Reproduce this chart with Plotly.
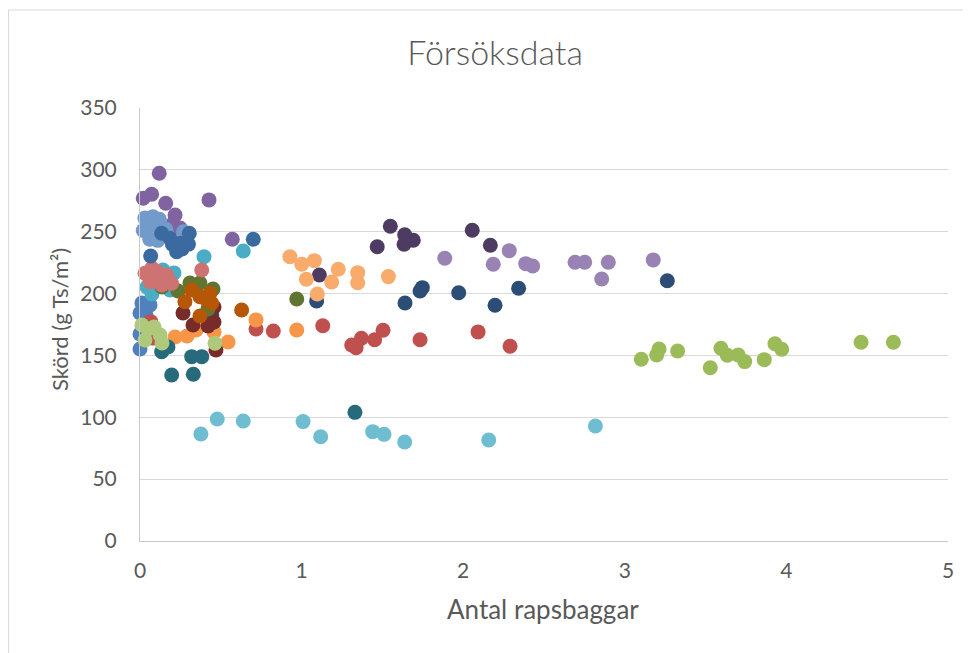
import plotly.graph_objects as go

# ---- data ----
blue_x = [0.012, 0.062, 0.0, 0.037, 0.0, 0.0]
blue_y = [192.4, 190.8, 184.3, 182.7, 167.3, 155.2]

red_x = [0.066, 0.08, 0.718, 0.825, 1.131, 1.310, 1.337, 1.370, 1.452, 1.504, 1.733, 2.092, 2.290]
red_y = [177.3, 164.0, 171.4, 169.8, 174.0, 158.4, 156.3, 163.9, 162.7, 170.3, 162.7, 169.0, 157.4]

green_x = [3.102, 3.197, 3.212, 3.327, 3.529, 3.595, 3.634, 3.702, 3.742, 3.863, 3.929, 3.971, 4.462, 4.662]
green_y = [146.9, 150.4, 155.2, 153.6, 140.1, 155.8, 150.1, 150.4, 145.0, 146.6, 159.5, 155.0, 160.6, 160.6]

purple_x = [0.119, 0.020, 0.072, 0.159, 0.427, 0.217, 0.206, 0.248, 0.571]
purple_y = [297.2, 277.0, 280.3, 273.0, 275.7, 263.5, 256.8, 253.0, 243.9]

aqua_x = [0.396, 0.639, 0.043, 0.186, 0.142, 0.210, 0.074]
aqua_y = [229.8, 234.4, 205.3, 202.9, 219.1, 216.7, 199.7]

orange_x = [0.217, 0.291, 0.347, 0.458, 0.545, 0.718, 0.970]
orange_y = [164.9, 165.7, 170.6, 169.0, 160.9, 178.7, 170.6]

navy_x = [0.444, 1.093, 1.640, 1.733, 1.747, 1.972, 2.197, 2.343, 3.263]
navy_y = [182.7, 194.0, 192.4, 202.1, 204.8, 200.7, 190.5, 204.3, 210.4]

darkred_x = [0.266, 0.328, 0.421, 0.458, 0.470, 0.458]
darkred_y = [184.3, 174.6, 173.8, 177.0, 154.4, 189.2]

darkgreen_x = [0.309, 0.452, 0.235, 0.421, 0.136, 0.371, 0.970]
darkgreen_y = [208.6, 203.7, 202.1, 187.6, 205.3, 208.6, 195.6]

darkpurple_x = [1.110, 1.468, 1.549, 1.638, 1.634, 1.691, 2.056, 2.168]
darkpurple_y = [215.0, 237.9, 254.4, 247.6, 239.9, 243.1, 251.2, 239.0]

darkteal_x = [0.134, 0.173, 0.320, 0.382, 0.196, 0.330, 1.330]
darkteal_y = [153.0, 156.8, 149.0, 149.0, 134.2, 134.8, 104.0]

darkorange_x = [0.320, 0.371, 0.433, 0.413, 0.278, 0.444, 0.371, 0.629]
darkorange_y = [202.9, 197.5, 200.2, 194.8, 193.4, 192.2, 181.9, 186.7]

lightblue_x = [0.03, 0.08, 0.12, 0.02, 0.06, 0.11, 0.09, 0.27, 0.16]
lightblue_y = [261.0, 262.0, 260.0, 251.0, 244.0, 243.0, 255.0, 250.0, 252.0]

lightred_x = [0.031, 0.103, 0.165, 0.196, 0.062, 0.134, 0.074, 0.382]
lightred_y = [216.4, 217.7, 215.0, 208.3, 209.6, 207.0, 220.7, 219.1]

lightgreen_x = [0.012, 0.05, 0.087, 0.124, 0.031, 0.136, 0.464]
lightgreen_y = [174.6, 171.4, 173.0, 166.5, 162.5, 160.1, 159.8]

lightpurple_x = [1.886, 2.186, 2.285, 2.387, 2.430, 2.692, 2.752, 2.857, 2.898, 3.176]
lightpurple_y = [228.5, 223.7, 234.7, 224.2, 222.3, 225.3, 225.3, 211.8, 225.3, 227.2]

lightaqua_x = [0.377, 0.478, 0.639, 1.009, 1.118, 1.440, 1.510, 1.638, 2.158, 2.818]
lightaqua_y = [86.5, 98.6, 97.0, 96.5, 84.3, 88.4, 86.2, 80.0, 81.6, 93.0]

lightorange_x = [0.928, 1.001, 1.079, 1.029, 1.227, 1.186, 1.347, 1.347, 1.537, 1.097]
lightorange_y = [229.8, 223.7, 226.6, 211.6, 219.6, 209.4, 216.9, 208.8, 213.7, 199.7]

steelblue_x = [0.066, 0.134, 0.186, 0.248, 0.305, 0.30, 0.227, 0.26, 0.20, 0.701]
steelblue_y = [230.4, 248.7, 244.7, 240.7, 248.7, 240.0, 233.9, 236.0, 240.0, 243.9]

x_ticks = [0, 1, 2, 3, 4, 5]
y_ticks = [0, 50, 100, 150, 200, 250, 300, 350]

series = [
    (blue_x, blue_y, "#4F81BD"),
    (red_x, red_y, "#C0504D"),
    (green_x, green_y, "#9BBB59"),
    (purple_x, purple_y, "#8064A2"),
    (aqua_x, aqua_y, "#4BACC6"),
    (orange_x, orange_y, "#F79646"),
    (navy_x, navy_y, "#2C4D75"),
    (darkred_x, darkred_y, "#772C2A"),
    (darkgreen_x, darkgreen_y, "#5F7530"),
    (darkpurple_x, darkpurple_y, "#4D3B62"),
    (darkteal_x, darkteal_y, "#276A7C"),
    (darkorange_x, darkorange_y, "#B65708"),
    (lightblue_x, lightblue_y, "#729ACA"),
    (lightred_x, lightred_y, "#CD7371"),
    (lightgreen_x, lightgreen_y, "#AFC97A"),
    (lightpurple_x, lightpurple_y, "#9983B5"),
    (lightaqua_x, lightaqua_y, "#6FBDD1"),
    (lightorange_x, lightorange_y, "#F9AB6B"),
    (steelblue_x, steelblue_y, "#3A6AA0"),
]

fig = go.Figure()
for xs, ys, col in series:
    fig.add_trace(go.Scatter(
        x=xs, y=ys, mode="markers", cliponaxis=False, showlegend=False,
        marker=dict(size=15, color=col, line=dict(width=0)),
        hoverinfo="x+y",
    ))

FONT = "Lato"
GREY = "#595959"

# page body has an 8px offset, so margins compensate for it
L, R, T, B = 132, 31, 100, 120
PW, PH = 971 - L - R, 653 - T - B

fig.update_layout(
    width=971, height=653,
    margin=dict(l=L, r=R, t=T, b=B),
    paper_bgcolor="white", plot_bgcolor="white",
    font=dict(family=FONT, color=GREY, size=21),
    title=dict(text="Försöksdata", x=487 / 971, xanchor="center", y=1 - 45 / 653, yanchor="middle",
               font=dict(family=FONT, size=34, color=GREY, weight=300)),
    showlegend=False,
)
fig.update_xaxes(
    range=[0, 5], tickvals=x_ticks, showgrid=False, zeroline=False,
    showline=True, linecolor="#C8C8C8", linewidth=1,
    ticks="outside", ticklen=11, tickcolor="rgba(0,0,0,0)",
    tickfont=dict(family=FONT, size=21, color=GREY),
)
fig.update_yaxes(
    range=[0, 350], tickvals=y_ticks, showgrid=True, gridcolor="#D9D9D9", gridwidth=1,
    zeroline=False, showline=True, linecolor="#C8C8C8", linewidth=1,
    ticks="outside", ticklen=18, tickcolor="rgba(0,0,0,0)",
    tickfont=dict(family=FONT, size=21, color=GREY),
)

fig.add_annotation(text="Antal rapsbaggar", xref="paper", yref="paper",
                   x=(543 - 8 - L) / PW, y=(533 - 601) / PH, xanchor="center", yanchor="middle",
                   showarrow=False, font=dict(family=FONT, size=26, color=GREY))
fig.add_annotation(text="Skörd (g Ts/m²)", xref="paper", yref="paper",
                   x=(59 - 8 - L) / PW, y=(533 - (320 - 8)) / PH, xanchor="center", yanchor="middle",
                   textangle=-90, showarrow=False,
                   font=dict(family=FONT, size=22, color=GREY))

# chart area border (extends beyond the window on the right and bottom)
fig.add_shape(type="rect", xref="paper", yref="paper",
              x0=(0.5 - L) / PW, x1=1.2, y0=-0.4, y1=(533 - 2) / PH,
              line=dict(color="#D9D9D9", width=1), fillcolor="rgba(0,0,0,0)", layer="below")

fig.write_html("out.html")
